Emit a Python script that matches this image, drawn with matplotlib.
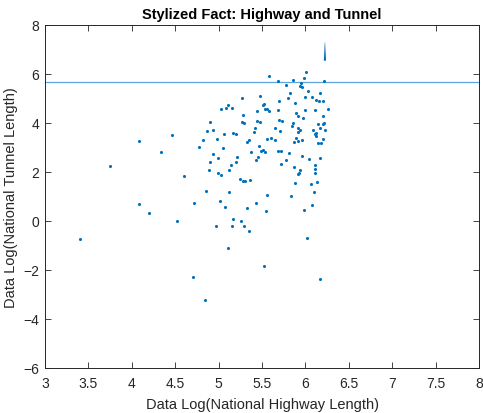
import matplotlib
matplotlib.use('Agg')
import matplotlib.pyplot as plt

plt.rcParams['font.family'] = ['Liberation Sans', 'DejaVu Sans']

# log national highway length
highway = [
    5.266, 5.028, 5.089, 5.108, 5.154, 5.278, 5.439, 4.901, 5.270, 5.293,
    5.439, 4.870, 4.939, 5.162, 5.197, 5.062, 5.419, 5.408, 4.978, 4.824,
    5.331, 5.347, 4.079, 4.463, 4.771, 5.047, 4.336, 3.749, 4.939, 4.993,
    4.897, 5.209, 5.197, 5.146, 5.377, 5.427, 5.457, 4.893, 4.990, 5.031,
    5.123, 4.605, 5.247, 5.278, 5.301, 5.362, 4.858, 5.116, 4.079, 4.713,
    5.020, 5.077, 5.324, 5.431, 4.202, 4.524, 3.407, 4.967, 5.166, 5.158,
    5.262, 5.293, 5.350, 5.112, 4.705, 4.847, 5.550, 5.984, 6.073, 6.015,
    5.520, 6.172,
    5.581, 6.010, 5.987, 5.688, 5.854, 5.949, 6.214, 5.780, 5.941, 5.957,
    6.030, 5.826, 6.168, 5.480, 5.796, 5.999, 6.076, 6.126, 6.153, 6.206,
    5.696, 5.884, 5.508, 5.523, 5.535, 5.554, 5.581, 5.688, 5.999, 6.107,
    6.257, 5.892, 5.918, 5.976, 6.199, 5.477, 5.696, 5.727, 5.861, 5.842,
    6.145, 6.199, 6.211, 5.653, 5.911, 5.941, 5.911, 5.707, 6.091, 6.107,
    6.126, 6.118, 6.168, 6.226, 5.895, 5.918, 5.964, 5.872, 5.561, 5.607,
    5.646, 6.199, 6.145, 6.180, 5.465, 5.492, 5.515, 5.531, 5.681, 5.715,
    5.811, 5.964, 6.041, 6.168, 5.780, 5.719, 5.872, 5.934, 5.930, 5.918,
    6.114, 6.114, 6.114, 5.884, 6.068, 6.137, 6.099, 5.554, 5.834,
]

# log national tunnel length
tunnel = [
    5.01, 4.57, 4.61, 4.75, 4.61, 4.34, 4.50, 4.03, 4.04, 4.00,
    4.09, 3.66, 3.70, 3.59, 3.56, 3.55, 3.81, 3.63, 3.35, 3.28,
    3.21, 3.31, 3.27, 3.50, 3.01, 2.98, 2.79, 2.23, 2.71, 2.56,
    2.40, 2.62, 2.41, 2.29, 2.80, 2.48, 2.61, 2.07, 1.95, 1.87,
    2.07, 1.81, 1.69, 1.63, 1.63, 1.66, 1.21, 1.16, 0.67, 0.71,
    0.80, 0.57, 0.54, 0.72, 0.33, -0.01, -0.76, -0.22, 0.07, -0.23,
    -0.01, -0.23, -0.40, -1.11, -2.31, -3.24, 0.40, 0.45, 0.64, -0.72,
    -1.84, -2.37,
    5.91, 6.07, 5.85, 5.70, 5.76, 5.64, 5.70, 5.54, 5.51, 5.47,
    5.31, 5.22, 5.20, 5.09, 5.03, 5.05, 5.04, 4.95, 4.90, 4.88,
    4.90, 4.82, 4.71, 4.76, 4.57, 4.58, 4.48, 4.54, 4.53, 4.53,
    4.56, 4.40, 4.29, 4.18, 4.27, 4.03, 4.11, 4.08, 3.99, 3.87,
    3.97, 3.95, 4.01, 3.81, 3.78, 3.71, 3.64, 3.66, 3.70, 3.56,
    3.59, 3.46, 3.77, 3.70, 3.39, 3.27, 3.31, 3.20, 3.33, 3.39,
    3.31, 3.35, 3.17, 3.17, 3.07, 2.87, 2.90, 2.82, 2.86, 2.86,
    2.78, 2.64, 2.54, 2.57, 2.48, 2.31, 2.19, 2.07, 1.93, 1.89,
    2.27, 2.12, 1.95, 1.55, 1.51, 1.59, 1.17, 1.05, 1.01,
]

# tight stack of points near the top, drawn as a thin wedge
stack_x = [6.212, 6.238, 6.227, 6.223]
stack_y = [6.54, 6.54, 7.29, 7.29]

ref_level = 5.69

x_ticks = [3, 3.5, 4, 4.5, 5, 5.5, 6, 6.5, 7, 7.5, 8]
x_labels = ['3', '3.5', '4', '4.5', '5', '5.5', '6', '6.5', '7', '7.5', '8']
y_ticks = [-6, -4, -2, 0, 2, 4, 6, 8]

fig = plt.figure(figsize=(4.83, 4.14), dpi=100)
ax = fig.add_axes([0.0932, 0.1099, 0.8985, 0.8273])

blue = '#0072BD'
ax.axhline(ref_level, color='#5DA5DA', linewidth=0.9, zorder=1)
ax.scatter(highway, tunnel, s=5, color=blue, linewidths=0, zorder=2)
ax.fill(stack_x, stack_y, color=blue, linewidth=0, zorder=2)

ax.set_xlim(3, 8)
ax.set_ylim(-6, 8)
ax.set_xticks(x_ticks)
ax.set_xticklabels(x_labels)
ax.set_yticks(y_ticks)
ax.tick_params(direction='in', length=4, width=0.6, top=True, right=True,
               labelsize=10, colors='#262626')
ax.tick_params(axis='x', pad=6)
ax.tick_params(axis='y', pad=4)
for sp in ax.spines.values():
    sp.set_linewidth(0.7)
    sp.set_color('#262626')

ax.set_title('Stylized Fact: Highway and Tunnel', fontsize=10.5, fontweight='bold', pad=5)
ax.set_xlabel('Data Log(National Highway Length)', fontsize=10.5, color='#262626', labelpad=5)
ax.set_ylabel('Data Log(National Tunnel Length)', fontsize=10.5, color='#262626', labelpad=4)

fig.savefig('out.png', dpi=100)
